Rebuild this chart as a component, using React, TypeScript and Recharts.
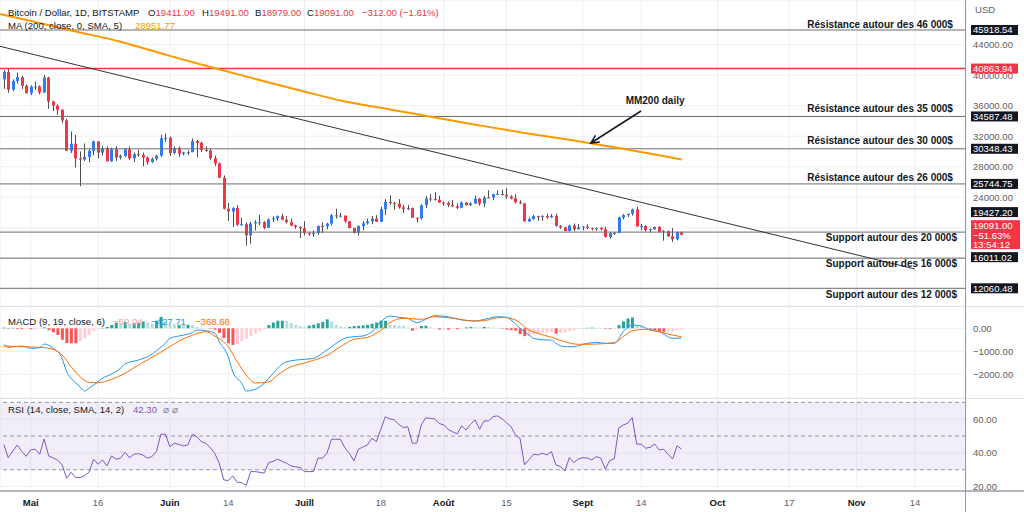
import React from "react";
import {
  ComposedChart, Bar, Line, XAxis, YAxis, CartesianGrid,
  ReferenceLine, ReferenceArea, ReferenceDot, Cell,
} from "recharts";

const FONT = '"Liberation Sans", Arial, Helvetica, sans-serif';
const UP = "#2f7cf6";
const DOWN = "#f23645";
const WICK = "#4d4d4d";
const GRID = "#edf0f6";
const TXT = "#131722";

// ---- x axis (days counted from 1 May 2022) ----
const X_MIN = -6.84;
const X_MAX = 208.36;
const xTickDays = [0, 15, 31, 44, 61, 78, 92, 106, 123, 136, 153, 169, 184, 197];
const xTickLabels = ["Mai", "16", "Juin", "14", "Juill", "18", "Août", "15", "Sept", "14", "Oct", "17", "Nov", "14"];
const monthNames = ["Mai", "Juin", "Juill", "Août", "Sept", "Oct", "Nov"];

// ---- candles: 25 Apr 2022 .. 23 Sep 2022 ----
const FIRST_DAY = -6;
const opens = [
  39450,40430,38110,39240,39740,38600,37640,38470,38520,37730,39690,36550,36010,35470,34060,30090,31010,29080,28940,29280,30080,31320,29850,30430,28700,30300,29200,29430,30290,29100,29650,29540,29200,28620,29020,29450,31720,
  31790,29800,30450,29700,29860,29910,31370,31130,30200,30110,29090,28420,26570,22490,22130,22580,20380,20460,19010,20560,20720,20720,19980,21100,21230,21500,21040,20730,20280,20100,
  19930,19290,19250,19310,20230,20190,20550,21630,21590,21590,20850,19970,19330,20230,20590,20830,21190,20780,22420,23390,23230,23160,22680,22450,22590,21300,21240,22950,23840,23780,23650,
  23300,23270,22990,22820,22620,23300,22960,23170,23810,23160,23960,23940,24400,24440,24310,24100,23850,23340,23200,20830,21140,21520,21400,21530,21370,21560,20240,20030,19550,20290,19800,
  20050,20130,19950,19830,19990,19800,18790,19290,19320,21360,21650,21830,22400,20170,20230,19700,19800,20110,19420,19540,18880,18490,19411,
];
const highs = [
  40650,40800,39450,40350,39900,38800,38650,39150,38650,40000,39800,36650,36150,35500,34250,32600,32150,30000,31050,30300,31400,31320,30750,30650,30500,30700,29600,30450,30650,29850,30200,29850,29350,29200,29550,32200,32350,
  31950,30650,30650,29950,30150,31700,31500,31300,30650,30350,29450,28550,26850,23250,22700,22950,21300,20700,20800,21000,21700,20850,21200,21500,21600,21850,21500,21200,20400,20200,
  20850,19400,19650,20300,20700,20650,21800,22500,21950,21600,20850,20000,20300,20850,21200,21550,21650,22750,23750,24250,23400,23750,22950,23000,22650,21350,23050,24150,24400,24650,24200,
  23450,23450,23650,23200,23450,23350,23400,24200,23900,24200,24900,24450,24900,25000,25200,24250,24400,23600,23200,21350,21700,21550,21650,21850,21800,21850,20350,20150,20400,20550,20500,
  20200,20450,20000,20000,20050,20150,19450,19450,21450,21800,21850,22500,22750,20500,20350,19900,20150,20200,19700,19650,19950,19500,19491,
];
const lows = [
  38200,37700,37900,38900,38200,37600,37400,38050,37500,37700,35600,35300,34800,33700,30050,29800,27900,25450,28750,28600,29500,29100,29450,28700,28650,28750,28950,29250,28850,28600,29300,28050,28250,28500,28800,29300,31250,
  29400,29600,29300,29500,29500,29900,29250,29900,29950,28900,28100,26500,22400,20900,20100,20250,20250,17650,17900,19650,20350,19800,19950,20750,20900,21000,20550,20200,19850,18650,
  19000,18950,18800,19050,19300,19800,20300,21200,21350,20650,19900,19250,18950,19650,20400,20450,20750,20750,21650,23000,22350,22500,21950,22300,21300,20700,21050,22600,23450,23550,23250,
  22850,22700,22700,22450,22600,22900,22850,23150,22900,22700,23900,23600,24300,24200,23800,23700,23200,23100,20800,20750,21050,20900,20900,21150,21300,20150,19850,19550,19550,19550,19800,
  19650,19800,19650,19600,19650,18700,18550,19050,19300,21100,21400,21600,20150,19650,19500,19350,19700,19400,18300,18800,18150,18350,18979,
];
const closes = [
  40430,38110,39240,39740,38600,37640,38470,38520,37730,39690,36550,36010,35470,34060,30090,31010,29080,28940,29280,30080,31320,29850,30430,28700,30300,29200,29430,30290,29100,29650,29540,29200,28620,29020,29450,31720,31790,
  29800,30450,29700,29860,29910,31370,31130,30200,30110,29090,28420,26570,22490,22130,22580,20380,20460,19010,20560,20720,20720,19980,21100,21230,21500,21040,20730,20280,20100,19930,
  19290,19250,19310,20230,20190,20550,21630,21590,21590,20850,19970,19330,20230,20590,20830,21190,20780,22420,23390,23230,23160,22680,22450,22590,21300,21240,22950,23840,23780,23650,23300,
  23270,22990,22820,22620,23300,22960,23170,23810,23160,23960,23940,24400,24440,24310,24100,23850,23340,23200,20830,21140,21520,21400,21530,21370,21560,20240,20030,19550,20290,19800,20050,
  20130,19950,19830,19990,19800,18790,19290,19320,21360,21650,21830,22400,20170,20230,19700,19800,20110,19420,19540,18880,18490,19411,19091,
];

// ---- MA 200 samples ----
const maDays = [-6.84, 0, 10, 20, 30, 40, 50, 60, 70, 80, 90, 100, 110, 120, 130, 140, 145];
const maValues = [48016, 47098, 45735, 44385, 42694, 41069, 39509, 37988, 36546, 35511, 34462, 33414, 32417, 31526, 30543, 29494, 28952];

// ---- price levels ----
const P_MIN = 9741;
const P_MAX = 49851;
const priceGridTicks = [12000, 16000, 20000, 24000, 28000, 32000, 36000, 40000, 44000];
const coveredTickLabels = [12000, 16000, 20000];
const levelPrices = [45918.54, 34587.48, 30348.43, 25744.75, 19427.2, 16011.02, 12060.48];
const levelTagShift = [0, 0, 0, 0, -20, -1, 0];
const redLevel = 40863.94;
const lastClose = 19091.0;
const lastChange = "−51.63%";
const countdown = "13:54:12";

const trendDays = [-6.84, 197];
const trendPrices = [43782, 14590];

const noteTexts = [
  "Résistance autour des 46 000$", "Résistance autour des 35 000$", "Résistance autour des 30 000$",
  "Résistance autour des 26 000$", "Support autour des 20 000$", "Support autour des 16 000$", "Support autour des 12 000$",
];
const noteDays = [205.45, 205.45, 205.45, 205.45, 206.35, 206.35, 206.35];
const notePrices = [46705, 35694, 31369, 26650, 18785, 15377, 11313];
const mmText = "MM200 daily";
const mmDay = 139.1;
const mmPrice = 36743;
const arrowDays = [135.96, 124.8];
const arrowPrices = [35301, 31107];

// ---- MACD ----
const M_MIN = -3030;
const M_MAX = 970;
const macdDays = [-6,-5,-2,0,2,3,5,7,8,9,11,12,13,15,16,18,20,21,24,27,28,30,31,33,36,37,39,41,42,44,45,47,48,50,52,54,56,58,61,63,65,67,70,72,74,76,78,80,82,84,86,88,90,93,96,99,102,104,106,107,109,111,112,115,116,117,119,121,123,126,128,130,132,134,136,138,140,143,145];
const macdValues = [-696,-826,-770,-870,-843,-683,-870,-1304,-1887,-2174,-2539,-2726,-2609,-2322,-2174,-1987,-1739,-1552,-1378,-1130,-974,-652,-435,-335,-191,-74,-104,-217,-583,-1235,-1887,-2391,-2726,-2652,-2391,-1957,-1552,-1409,-1348,-1304,-1087,-800,-435,-365,-335,-148,287,535,478,435,243,391,548,504,361,317,435,504,478,361,0,-291,-435,-509,-509,-652,-800,-800,-696,-609,-652,-652,-148,143,100,-74,-148,-435,-428];
const signalDays = [-6,-2,2,5,7,9,11,13,15,18,21,24,28,31,33,36,39,41,44,46,48,50,53,55,58,61,63,66,69,72,75,78,80,83,87,90,94,99,101,103,105,108,111,113,116,119,122,126,130,132,134,137,140,142,145];
const signalValues = [-770,-800,-826,-913,-1161,-1670,-2104,-2348,-2365,-2217,-1957,-1596,-1150,-800,-560,-300,-150,-335,-800,-1452,-2030,-2378,-2335,-2030,-1670,-1509,-1391,-1174,-800,-478,-391,-87,243,435,391,504,435,317,330,420,478,361,-74,-217,-391,-583,-696,-683,-626,-365,-104,-43,-148,-248,-369];
const histValues = [
  30,-20,20,-30,-40,-20,-40,-30,-20,40,
  -80,-170,-290,-500,-640,-650,-650,-560,-430,-290,-120,-40,20,60,
  150,250,230,280,200,230,250,300,250,200,330,500,280,150,140,140,130,150,140,60,20,10,-20,-60,
  -200,-420,-650,-720,-680,-560,-450,-330,-220,-130,-40,
  145,250,330,330,320,220,145,100,60,120,
  160,220,280,390,290,145,80,40,60,100,
  110,130,150,200,250,330,330,150,130,120,
  100,30,-100,-60,100,110,40,10,-50,-40,
  -60,-30,-40,-20,40,60,50,40,60,50,
  30,20,-20,-50,-80,
  -100,-250,-340,-320,-260,-220,-200,-180,-160,-230,-200,-190,-120,-80,-40,10,20,30,20,15,-20,-30,
  -20,140,300,430,470,150,100,20,-40,-80,-145,-150,-145,-140,-80,-59,
];

// ---- RSI ----
const R_MIN = 17.4;
const R_MAX = 72.6;
const rsiValues = [
  45,37.2,41,44.7,41,38,41.8,42.2,39.2,48.3,
  38.2,37,35.8,32.9,25,28.5,25.5,25.3,26.5,28.5,
  36.3,33.3,35.8,32.3,38.2,36.3,36.9,40.4,37.2,39.2,
  39.5,38.8,36.9,37.8,40.8,51.1,51.1,43.7,45.8,45,
  44.2,44.7,51.1,49.7,46.7,45.8,43,39.8,33.9,24,
  23.6,26.4,22.6,22.4,20.6,28.9,28.9,28.5,28,34.2,
  35,36.3,35,33.9,32.3,31.8,31.3,28.9,28.9,29,
  36.9,36.9,39.8,48.1,48.1,48.1,43,39.8,35.3,42.2,
  43.5,44.7,48.7,46.7,54,61.5,60.2,59.6,57,55,
  55.6,45.8,45.8,56.6,60.9,60.5,60.2,57.5,56.6,54,
  52.5,51.3,56,53.6,57,59.6,54.1,59,59,61.5,
  62,60.2,58,55.6,50.7,48.7,32.9,36,39.2,38.8,
  39.8,38.8,40.8,32.9,31.9,29.3,37.2,34.2,36.5,37.2,
  37,35.8,37.8,36.9,30.5,35.5,36.5,54.7,56.6,57.6,
  60.9,45.2,45.2,42.8,43.3,45.3,41.8,42.2,39.2,36.4,
  44.2,42.3,
];

// ---- derived tables ----
const candles = closes.map((c, i) => ({ d: FIRST_DAY + i, o: opens[i], h: highs[i], l: lows[i], c }));
const maData = maDays.map((d, i) => ({ d, v: maValues[i] }));
const macdData = macdDays.map((d, i) => ({ d, v: macdValues[i] }));
const signalData = signalDays.map((d, i) => ({ d, v: signalValues[i] }));
const histData = histValues.map((h, i) => {
  const prev = i > 0 ? histValues[i - 1] : h;
  let color;
  if (h >= 0) color = h >= prev ? "#26a69a" : "#b2dfdb";
  else color = h <= prev ? "#ff5252" : "#ffcdd2";
  return { d: FIRST_DAY + i, h, color };
});
const rsiData = rsiValues.map((r, i) => ({ d: FIRST_DAY + i, r }));

const M0 = { top: 0, right: 0, bottom: 0, left: 0 };

const Candle = (props: any) => {
  const { x, y, width, height, payload } = props;
  if (!payload || x == null) return null;
  const { o, h, l, c } = payload;
  const top = Math.min(y, y + height);
  const hgt = Math.abs(height);
  const ratio = h === l ? 0 : hgt / (h - l);
  const cx = Math.round(x + width / 2) + 0.5;
  const bTop = top + (h - Math.max(o, c)) * ratio;
  const bBot = top + (h - Math.min(o, c)) * ratio;
  const col = c >= o ? UP : DOWN;
  return (
    <g>
      <line x1={cx} x2={cx} y1={top} y2={top + hgt} stroke={WICK} strokeWidth={1} />
      <rect x={cx - 1.5} y={bTop} width={3} height={Math.max(1, bBot - bTop)} fill={col} />
    </g>
  );
};

const LevelTag = ({ viewBox, text, fill, dy }: any) => {
  if (!viewBox) return null;
  const x = viewBox.x + viewBox.width + 5;
  const y = viewBox.y + (dy || 0);
  return (
    <g>
      <rect x={x} y={y - 5} width={47} height={10} fill={fill} />
      <text x={x + 2} y={y} dy={3.4} fontSize={9.5} fill="#ffffff" fontFamily={FONT}>{text}</text>
    </g>
  );
};

const CurrentTag = ({ viewBox }: any) => {
  if (!viewBox) return null;
  const x = viewBox.x + viewBox.width + 5;
  const y = viewBox.y;
  return (
    <g>
      <rect x={x} y={y - 14.5} width={49} height={29} fill="#f23645" />
      <text x={x + 2} y={y - 8.7} dy={3.4} fontSize={9.5} fill="#ffffff" fontFamily={FONT}>{lastClose.toFixed(2)}</text>
      <text x={x + 2} y={y + 0.5} dy={3.4} fontSize={9.5} fill="#ffffff" fontFamily={FONT}>{lastChange}</text>
      <text x={x + 2} y={y + 10.3} dy={3.4} fontSize={9.5} fill="#ffffff" fontFamily={FONT}>{countdown}</text>
    </g>
  );
};

const fmtNum = (v: number) => (v < 0 ? "−" + Math.abs(v).toFixed(2) : v.toFixed(2));

const AxisTick = (p: any) => {
  const v = Number(p.payload.value);
  if (p.hiddenValues && p.hiddenValues.includes(v)) return <g />;
  return (
    <text x={p.x + 7} y={p.y} dy={3.4} fontSize={9.6} fill="#5d606b" fontFamily={FONT}>
      {fmtNum(v)}
    </text>
  );
};

const DateTick = (p: any) => {
  const idx = xTickDays.indexOf(Number(p.payload.value));
  const label = xTickLabels[idx] ?? "";
  const isMonth = monthNames.includes(label);
  return (
    <text x={p.x} y={p.y + 14.5} textAnchor="middle" fontSize={9.5} fontWeight={isMonth ? 700 : 400}
      fill={isMonth ? TXT : "#5d606b"} fontFamily={FONT}>
      {label}
    </text>
  );
};

const Arrow = (p: any) => {
  const { x1, y1, x2, y2 } = p;
  if (x1 == null) return null;
  const ang = Math.atan2(y2 - y1, x2 - x1);
  const L = 8, W = 4;
  const bx = x2 - L * Math.cos(ang), by = y2 - L * Math.sin(ang);
  const lx = bx + W * Math.sin(ang), ly = by - W * Math.cos(ang);
  const rx = bx - W * Math.sin(ang), ry = by + W * Math.cos(ang);
  return (
    <g>
      <line x1={x1} y1={y1} x2={x2} y2={y2} stroke={TXT} strokeWidth={1.5} />
      <polyline points={`${lx},${ly} ${x2},${y2} ${rx},${ry}`} fill="none" stroke={TXT} strokeWidth={1.5} />
    </g>
  );
};

const NoteText = (text: string, anchor: string) => (p: any) => (
  <text x={p.cx} y={p.cy} dy={3.5} textAnchor={anchor} fontSize={10} fontWeight={700} fill={TXT} fontFamily={FONT}>
    {text}
  </text>
);

function PriceChart() {
  return (
    <ComposedChart width={1024} height={306} data={candles} margin={M0}>
      <CartesianGrid stroke={GRID} />
      <XAxis dataKey="d" type="number" domain={[X_MIN, X_MAX]} ticks={xTickDays} hide allowDataOverflow />
      <YAxis orientation="right" width={58} domain={[P_MIN, P_MAX]} ticks={priceGridTicks} interval={0}
        tick={<AxisTick hiddenValues={coveredTickLabels} />} axisLine={false} tickLine={false} tickSize={0} tickMargin={0} allowDataOverflow />
      {levelPrices.map((v, i) => (
        <ReferenceLine key={"lv" + i} y={v} stroke="#6e6e6e" strokeWidth={1} />
      ))}
      <ReferenceLine y={redLevel} stroke="#f23645" strokeWidth={1.6} />
      <ReferenceLine segment={[{ x: trendDays[0], y: trendPrices[0] }, { x: trendDays[1], y: trendPrices[1] }]}
        stroke="#333333" strokeWidth={1} />
      <Line data={maData} dataKey="v" type="monotone" stroke="#ff9800" strokeWidth={2} dot={false} activeDot={false} isAnimationActive={false} />
      <Bar dataKey={(r: any) => [r.l, r.h]} barSize={4} isAnimationActive={false}
        shape={(p: any) => <Candle {...p} />} />
      <ReferenceLine segment={[{ x: arrowDays[0], y: arrowPrices[0] }, { x: arrowDays[1], y: arrowPrices[1] }]}
        shape={(p: any) => <Arrow {...p} />} />
      <ReferenceDot x={mmDay} y={mmPrice} r={0} shape={NoteText(mmText, "middle")} />
      {noteTexts.map((t, i) => (
        <ReferenceDot key={"nt" + i} x={noteDays[i]} y={notePrices[i]} r={0} shape={NoteText(t, "end")} />
      ))}
    </ComposedChart>
  );
}

// price tags on the right scale, drawn in a layer above the axis text
function TagOverlay() {
  return (
    <ComposedChart width={1024} height={306} data={candles} margin={M0}>
      <XAxis dataKey="d" type="number" domain={[X_MIN, X_MAX]} hide allowDataOverflow />
      <YAxis orientation="right" width={58} domain={[P_MIN, P_MAX]} tick={false} axisLine={false} tickLine={false} allowDataOverflow />
      {levelPrices.map((v, i) => (
        <ReferenceLine key={"tg" + i} y={v} stroke="none" strokeOpacity={0}
          label={(lp: any) => <LevelTag viewBox={lp.viewBox} text={v.toFixed(2)} fill={TXT} dy={levelTagShift[i]} />} />
      ))}
      <ReferenceLine y={redLevel} stroke="none" strokeOpacity={0}
        label={(lp: any) => <LevelTag viewBox={lp.viewBox} text={redLevel.toFixed(2)} fill="#f23645" dy={0} />} />
      <ReferenceLine y={lastClose} stroke="none" strokeOpacity={0}
        label={(lp: any) => <CurrentTag viewBox={lp.viewBox} />} />
    </ComposedChart>
  );
}

function MacdChart() {
  return (
    <ComposedChart width={1024} height={92} data={histData} margin={M0}>
      <CartesianGrid stroke={GRID} />
      <XAxis dataKey="d" type="number" domain={[X_MIN, X_MAX]} ticks={xTickDays} hide allowDataOverflow />
      <YAxis orientation="right" width={58} domain={[M_MIN, M_MAX]} ticks={[-2000, -1000, 0]} interval={0}
        tick={<AxisTick />} axisLine={false} tickLine={false} tickSize={0} tickMargin={0} allowDataOverflow />
      <Bar dataKey="h" barSize={3} isAnimationActive={false}>
        {histData.map((r, i) => <Cell key={i} fill={r.color} />)}
      </Bar>
      <Line data={macdData} dataKey="v" type="monotone" stroke="#2196f3" strokeWidth={1} dot={false} activeDot={false} isAnimationActive={false} />
      <Line data={signalData} dataKey="v" type="monotone" stroke="#ff6d00" strokeWidth={1} dot={false} activeDot={false} isAnimationActive={false} />
    </ComposedChart>
  );
}

function RsiChart() {
  return (
    <ComposedChart width={1024} height={114} data={rsiData} margin={M0}>
      <ReferenceArea y1={30} y2={70} fill="#7e57c2" fillOpacity={0.1} stroke="none" />
      <CartesianGrid stroke={GRID} />
      <XAxis dataKey="d" type="number" domain={[X_MIN, X_MAX]} ticks={xTickDays} interval={0} height={21}
        axisLine={false} tickLine={false} tickSize={0} tickMargin={0} tick={<DateTick />} allowDataOverflow />
      <YAxis orientation="right" width={58} domain={[R_MIN, R_MAX]} ticks={[20, 40, 60]} interval={0}
        tick={<AxisTick />} axisLine={false} tickLine={false} tickSize={0} tickMargin={0} allowDataOverflow />
      {[70, 50, 30].map((v) => (
        <ReferenceLine key={"rl" + v} y={v} stroke="#9598a1" strokeDasharray="4 3" strokeWidth={1} />
      ))}
      <Line dataKey="r" type="linear" stroke="#7e57c2" strokeWidth={1} dot={false} activeDot={false} isAnimationActive={false} />
    </ComposedChart>
  );
}

const abs = (left: number, top: number, extra: any = {}) => ({
  position: "absolute" as const, left, top, whiteSpace: "nowrap" as const, fontSize: 9.6, lineHeight: "12px", ...extra,
});

export default function App() {
  return (
    <div style={{ position: "absolute", left: 0, top: 0, width: 1024, height: 512, background: "#ffffff", overflow: "hidden", fontFamily: FONT, color: TXT }}>
      <div style={{ position: "absolute", left: 0, top: 0 }}><PriceChart /></div>
      <div style={{ position: "absolute", left: 0, top: 0, pointerEvents: "none" }}><TagOverlay /></div>
      <div style={{ position: "absolute", left: 0, top: 306 }}><MacdChart /></div>
      <div style={{ position: "absolute", left: 0, top: 398 }}><RsiChart /></div>

      <div style={{ position: "absolute", left: 0, top: 306, width: 1024, height: 1, background: "#e0e3eb" }} />
      <div style={{ position: "absolute", left: 0, top: 398, width: 1024, height: 1, background: "#e0e3eb" }} />
      <div style={{ position: "absolute", left: 0, top: 490, width: 1024, height: 2, background: "#b2b5be" }} />
      <div style={{ position: "absolute", left: 965, top: 0, width: 1, height: 512, background: "#9598a1" }} />

      <div style={abs(975, 4, { color: "#5d606b" })}>USD</div>

      <div style={abs(8, 7)}>Bitcoin / Dollar, 1D, BITSTAMP</div>
      <div style={abs(148, 7)}>O<span style={{ color: "#f23645" }}>19411.00</span></div>
      <div style={abs(202, 7)}>H<span style={{ color: "#f23645" }}>19491.00</span></div>
      <div style={abs(255, 7)}>B<span style={{ color: "#f23645" }}>18979.00</span></div>
      <div style={abs(307, 7)}>C<span style={{ color: "#f23645" }}>19091.00</span></div>
      <div style={abs(362, 7, { color: "#f23645" })}>−312.00 (−1.61%)</div>
      <div style={abs(8, 20)}>MA (200, close, 0, SMA, 5)</div>
      <div style={abs(135, 20, { color: "#ff9800" })}>28951.77</div>

      <div style={abs(8, 316)}>MACD (9, 19, close, 6)</div>
      <div style={abs(113, 316, { color: "#f7a8a8" })}>−59.04</div>
      <div style={abs(151, 316, { color: "#2196f3" })}>−427.71</div>
      <div style={abs(195, 316, { color: "#ff6d00" })}>−368.68</div>

      <div style={abs(8, 404)}>RSI (14, close, SMA, 14, 2)</div>
      <div style={abs(133, 404, { color: "#7e57c2" })}>42.30</div>
      <div style={abs(163, 404, { color: "#787b86" })}>⌀ ⌀</div>
    </div>
  );
}
